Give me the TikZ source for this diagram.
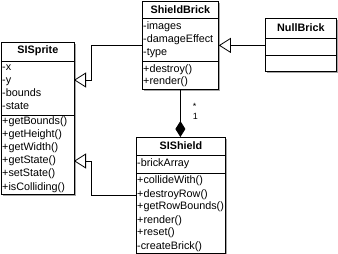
\documentclass[tikz,border=0pt]{standalone}
\usepackage{fontspec}
\setmainfont{Liberation Sans}
\usetikzlibrary{arrows.meta, shadows}

\begin{document}
\begin{tikzpicture}[x=1pt, y=-1pt,
    umlclass/.style={draw, fill=white, line width=0.8pt, anchor=north west, inner sep=0pt,
        drop shadow={shadow xshift=2pt, shadow yshift=-2pt, fill=black!35, opacity=1}},
    classname/.style={font=\fontsize{10.8}{13}\selectfont\bfseries, inner sep=0pt},
    member/.style={anchor=west, font=\fontsize{10.8}{13}\selectfont, inner sep=0pt, text height=8pt, text depth=2pt},
    divider/.style={line width=0.8pt},
    inherit/.style={-{Triangle[open, length=12pt, width=15pt]}, line width=0.8pt},
    compose/.style={-{Diamond[length=16pt, width=10pt]}, line width=0.8pt},
    mult/.style={anchor=west, font=\fontsize{9}{10}\selectfont, inner sep=0pt}
]
    \useasboundingbox (0,0) rectangle (338,254);

    % ── Class boxes ──
    \node[umlclass, minimum width=73pt, minimum height=152pt] (sprite) at (1,42) {};
    \node[umlclass, minimum width=76pt, minimum height=88pt]  (brick)  at (142,1) {};
    \node[umlclass, minimum width=71pt, minimum height=53pt]  (nullb)  at (265,18) {};
    \node[umlclass, minimum width=89pt, minimum height=116pt] (shield) at (136,137) {};

    % ── SISprite ──
    \node[classname] at (sprite.north |- 0,51) {SISprite};
    \draw[divider] (sprite.west |- 0,61) -- (sprite.east |- 0,61);
    \draw[divider] (sprite.west |- 0,115) -- (sprite.east |- 0,115);
    \node[member] at (2,68)  {-x};
    \node[member] at (2,81)  {-y};
    \node[member] at (2,94)  {-bounds};
    \node[member] at (2,107) {-state};
    \node[member] at (2,122) {+getBounds()};
    \node[member] at (2,135) {+getHeight()};
    \node[member] at (2,148) {+getWidth()};
    \node[member] at (2,161) {+getState()};
    \node[member] at (2,174) {+setState()};
    \node[member] at (2,187) {+isColliding()};

    % ── ShieldBrick ──
    \node[classname] at (brick.north |- 0,10) {ShieldBrick};
    \draw[divider] (brick.west |- 0,18) -- (brick.east |- 0,18);
    \draw[divider] (brick.west |- 0,61) -- (brick.east |- 0,61);
    \node[member] at (143,27) {-images};
    \node[member] at (143,40) {-damageEffect};
    \node[member] at (143,53) {-type};
    \node[member] at (143,70) {+destroy()};
    \node[member] at (143,82) {+render()};

    % ── NullBrick (no members) ──
    \node[classname] at (nullb.north |- 0,28) {NullBrick};
    \draw[divider] (nullb.west |- 0,38) -- (nullb.east |- 0,38);
    \draw[divider] (nullb.west |- 0,55) -- (nullb.east |- 0,55);

    % ── SIShield ──
    \node[classname] at (shield.north |- 0,146) {SIShield};
    \draw[divider] (shield.west |- 0,155) -- (shield.east |- 0,155);
    \draw[divider] (shield.west |- 0,173) -- (shield.east |- 0,173);
    \node[member] at (137,164) {-brickArray};
    \node[member] at (137,181) {+collideWith()};
    \node[member] at (137,194) {+destroyRow()};
    \node[member] at (137,207) {+getRowBounds()};
    \node[member] at (137,220) {+render()};
    \node[member] at (137,233) {+reset()};
    \node[member] at (137,246) {-createBrick()};

    % ── Generalisations ──
    \coordinate (gen1) at (74,80);
    \coordinate (gen2) at (74,161);
    \draw[inherit] (brick.west) -| ([xshift=17pt]gen1) -- (gen1);
    \draw[inherit] (shield.west) -| ([xshift=17pt]gen2) -- (gen2);
    \draw[inherit] (nullb.west |- brick.east) -- (brick.east);

    % ── Composition ShieldBrick * -- 1 SIShield ──
    \draw[compose] (brick.south) -- node[mult, pos=0.35, xshift=12pt] {*}
        node[mult, pos=0.56, xshift=12pt] {1} (brick.south |- shield.north);

\end{tikzpicture}
\end{document}
